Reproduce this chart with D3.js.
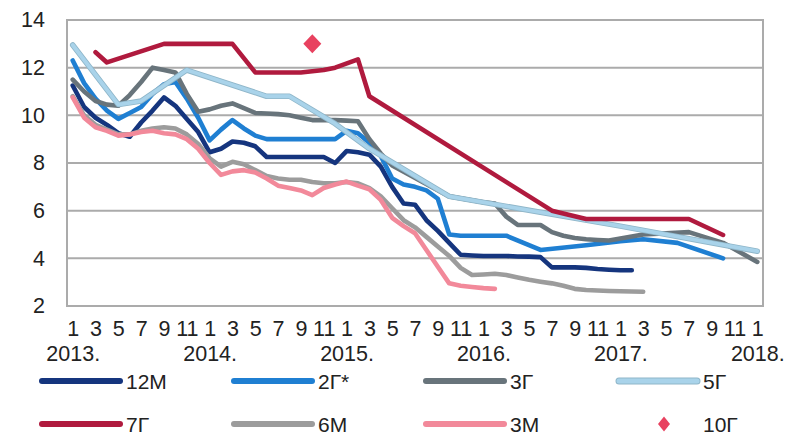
<!DOCTYPE html>
<html><head><meta charset="utf-8">
<script src="https://cdn.jsdelivr.net/npm/d3@7"></script>
<style>
html,body{margin:0;padding:0;background:#fff;}
svg text{font-family:"Liberation Sans",Arial,sans-serif;fill:#222;}
</style></head>
<body><svg id="c" width="792" height="435"></svg>
<script>
// ---- categories (Jan 2013 .. Jan 2018) ----
const years = [2013, 2014, 2015, 2016, 2017, 2018];
const categories = [];
years.forEach(yr => { for (let m = 1; m <= 12; m++) { if (yr === 2018 && m > 1) break; categories.push(yr + "-" + m); } });
const yTicks = [2, 4, 6, 8, 10, 12, 14];
const yearLabels = ["2013.", "2014.", "2015.", "2016.", "2017.", "2018."];
const _ = null;

// ---- series (one value per month, null = no observation) ----
const s12M = [11.25,10.35,9.9,9.6,9.25,9.1,9.7,10.2,10.75,10.4,9.85,9.3,
  8.45,8.6,8.9,8.85,8.7,8.25,8.25,8.25,8.25,8.25,8.25,8.0,
  8.5,8.45,8.35,7.85,7.0,6.3,6.25,5.6,5.15,4.65,4.15,4.12,
  4.1,4.1,4.1,4.08,4.07,4.05,3.62,3.62,3.62,3.6,3.55,3.52,
  3.5,3.5,_,_,_,_,_,_,_,_,_,_,_];
const s2G = [12.3,11.35,10.7,10.2,9.85,10.1,10.35,10.9,11.3,11.4,10.7,9.9,
  8.95,9.4,9.8,9.45,9.15,9.0,9.0,9.0,9.0,9.0,9.0,9.0,
  9.35,9.25,8.85,8.3,7.35,7.1,7.0,6.85,6.5,5.0,4.95,4.95,
  4.95,4.95,4.95,_,_,4.35,_,_,_,4.55,_,_,
  4.72,_,4.8,_,_,4.65,_,_,_,4.0,_,_,_];
const s3G = [11.5,11.0,10.6,10.45,10.4,10.85,11.4,12.0,11.9,11.8,10.9,10.15,
  10.25,10.4,10.5,10.3,10.1,10.08,10.05,10.0,9.9,9.8,9.8,9.8,
  9.78,9.75,9.0,8.4,7.9,_,_,_,_,6.6,_,_,
  6.35,6.3,5.75,5.4,5.4,5.4,5.1,4.95,4.85,4.8,4.77,4.75,
  _,_,5.0,_,_,_,5.1,_,_,4.65,_,_,3.85];
const s5G = [12.95,_,_,_,10.45,_,10.6,_,_,_,11.9,_,
  _,_,_,_,_,10.8,_,10.8,_,_,_,9.65,
  _,_,8.6,_,_,_,_,_,_,6.6,_,_,
  _,_,_,_,_,_,_,_,_,_,_,_,
  5.35,_,_,_,_,_,_,_,_,_,_,_,4.3];
const s7G = [_,_,12.65,12.22,_,_,_,_,13.0,_,_,_,
  _,_,13.0,_,11.8,_,_,_,11.8,_,11.9,12.0,
  _,12.35,10.8,_,_,_,_,_,_,_,_,_,
  _,_,_,_,_,_,6.0,_,_,5.65,_,_,
  _,_,_,_,_,_,5.65,_,_,4.98,_,_,_];
const s6M = [10.8,10.0,9.6,9.4,9.2,9.2,9.35,9.45,9.5,9.45,9.2,8.8,
  8.2,7.85,8.05,7.95,7.7,7.45,7.35,7.3,7.3,7.2,7.15,7.15,
  7.2,7.15,6.95,6.6,6.1,5.6,5.3,4.9,4.5,4.1,3.6,3.3,
  3.32,3.35,3.3,3.2,3.1,3.02,2.95,2.85,2.72,2.67,2.65,2.63,
  2.62,2.61,2.6,_,_,_,_,_,_,_,_,_,_];
const s3M = [10.75,9.9,9.5,9.35,9.15,9.2,9.3,9.35,9.25,9.2,9.0,8.6,
  8.0,7.5,7.65,7.7,7.6,7.35,7.05,6.95,6.85,6.65,6.95,7.1,
  7.22,7.05,6.9,6.45,5.7,5.35,5.05,4.35,3.65,2.95,2.85,2.8,
  2.75,2.72,_,_,_,_,_,_,_,_,_,_,
  _,_,_,_,_,_,_,_,_,_,_,_,_];
const s10G = [_,_,_,_,_,_,_,_,_,_,_,_,
  _,_,_,_,_,_,_,_,_,13.0,_,_,
  _,_,_,_,_,_,_,_,_,_,_,_,
  _,_,_,_,_,_,_,_,_,_,_,_,
  _,_,_,_,_,_,_,_,_,_,_,_,_];

const lineSeries = [
  {name: "12М", values: s12M, color: "#15357e"},
  {name: "2Г*", values: s2G, color: "#1f7fd2"},
  {name: "3Г", values: s3G, color: "#68747b"},
  {name: "5Г", values: s5G, color: "#a9d3ea", edge: "#8fb6c9"},
  {name: "7Г", values: s7G, color: "#b01a3e"},
  {name: "6М", values: s6M, color: "#9c9c9c"},
  {name: "3М", values: s3M, color: "#f2899a"}
];
const pointSeries = {name: "10Г", values: s10G, color: "#e8415f"};

// ---- layout ----
const svg = d3.select("#c");
const L = 67, R = 763, T = 20, B = 306;
const x = d3.scalePoint().domain(categories).range([L, R]).padding(0.5);
const y = d3.scaleLinear().domain([2, 14]).range([B, T]);

// grid
svg.append("g").selectAll("line").data(yTicks).join("line")
  .attr("x1", L).attr("x2", R).attr("y1", d => y(d)).attr("y2", d => y(d))
  .attr("stroke", "#ababab").attr("stroke-width", 2);
svg.append("rect").attr("x", L).attr("y", T).attr("width", R - L).attr("height", B - T)
  .attr("fill", "none").attr("stroke", "#ababab").attr("stroke-width", 2);

// y axis
const ya = svg.append("g").attr("transform", `translate(${L},0)`)
  .call(d3.axisLeft(y).tickValues(yTicks).tickSize(0).tickPadding(22));
ya.select(".domain").remove();
ya.selectAll("text").attr("font-size", 21.5);

// x axis months
const monthTicks = categories.filter((c, i) => i % 2 === 0);
const xa = svg.append("g").attr("transform", `translate(0,${B})`)
  .call(d3.axisBottom(x).tickValues(monthTicks).tickSize(0).tickPadding(15)
    .tickFormat(c => c.split("-")[1]));
xa.select(".domain").remove();
xa.selectAll("text").attr("font-size", 21.5);

// x axis years
const yearTicks = categories.filter(c => c.endsWith("-1"));
const xb = svg.append("g").attr("transform", `translate(0,${B + 25})`)
  .call(d3.axisBottom(x).tickValues(yearTicks).tickSize(0).tickPadding(15)
    .tickFormat(c => yearLabels[years.indexOf(+c.split("-")[0])]));
xb.select(".domain").remove();
xb.selectAll("text").attr("font-size", 21.5);

// lines
const line = d3.line().x(d => x(d.c)).y(d => y(d.v));
const gl = svg.append("g");
lineSeries.forEach(s => {
  const pts = s.values.map((v, i) => ({c: categories[i], v})).filter(d => d.v !== null);
  if (s.edge) {
    gl.append("path").datum(pts).attr("d", line).attr("fill", "none")
      .attr("stroke", s.edge).attr("stroke-width", 5.5)
      .attr("stroke-linejoin", "round").attr("stroke-linecap", "round");
  }
  gl.append("path").datum(pts).attr("d", line).attr("fill", "none")
    .attr("stroke", s.color).attr("stroke-width", s.edge ? 3.8 : 4.6)
    .attr("stroke-linejoin", "round").attr("stroke-linecap", "round");
});
const diamond = (w, h) => `M0,${-h}L${w},0L0,${h}L${-w},0Z`;
svg.append("g").selectAll("path")
  .data(pointSeries.values.map((v, i) => ({c: categories[i], v})).filter(d => d.v !== null))
  .join("path").attr("d", diamond(9, 9.5))
  .attr("transform", d => `translate(${x(d.c)},${y(d.v)})`)
  .attr("fill", pointSeries.color);

// legend
const legendItems = [...lineSeries, pointSeries];
const colX = [40, 232, 424, 617];
const rowY = [381, 424];
const lg = svg.append("g");
legendItems.forEach((s, k) => {
  const cx = colX[k % 4], cy = rowY[Math.floor(k / 4)];
  const g = lg.append("g").attr("transform", `translate(${cx},${cy})`);
  if (s === pointSeries) {
    g.append("path").attr("d", diamond(6, 7.5)).attr("transform", "translate(47,0)").attr("fill", s.color);
  } else {
    if (s.edge) g.append("line").attr("x1", 2).attr("x2", 80).attr("stroke", s.edge)
      .attr("stroke-width", 7).attr("stroke-linecap", "round");
    g.append("line").attr("x1", 2).attr("x2", 80).attr("stroke", s.color)
      .attr("stroke-width", s.edge ? 5 : 6).attr("stroke-linecap", "round");
  }
  g.append("text").attr("x", 86).attr("y", 0).attr("dy", "0.36em").attr("font-size", 21).text(s.name);
});
</script></body></html>
